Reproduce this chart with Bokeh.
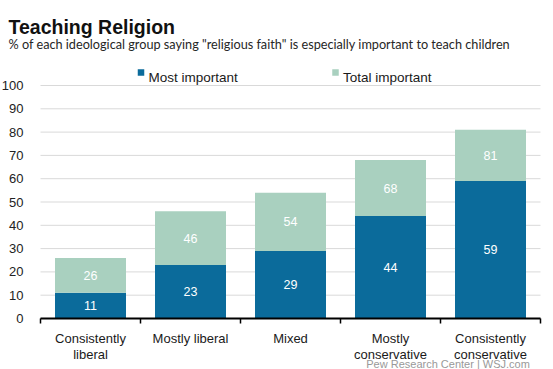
from bokeh.plotting import figure
from bokeh.models import Range1d, FixedTicker, LinearAxis
from bokeh.core.properties import value
from bokeh.embed import file_html
from bokeh.resources import INLINE

# ---- data ----
categories = ["Consistently\nliberal", "Mostly liberal", "Mixed",
              "Mostly\nconservative", "Consistently\nconservative"]
most_important = [11, 23, 29, 44, 59]
total_important = [26, 46, 54, 68, 81]
y_ticks = list(range(0, 101, 10))
series_names = ["Most important", "Total important"]

title_text = "Teaching Religion"
subtitle_text = '% of each ideological group saying "religious faith" is especially important to teach children'
source_text = "Pew Research Center  |  WSJ.com"

BLUE = "#0b6b9b"
GREEN = "#a9d0bf"

# ---- geometry (figure pixels) ----
W, H = 553, 369
FL, FR, FT, FB = 40, 540, 85, 318          # plot area inside the figure
PX_X = (FR - FL) / len(categories)
PX_Y = (FB - FT) / 100.0


def dx(fx):
    return (fx - FL) / PX_X


def dy(fy):
    return (FB - fy) / PX_Y


p = figure(width=W, height=H,
           x_range=Range1d(dx(0), dx(W)), y_range=Range1d(dy(H), dy(0)),
           output_backend="svg", toolbar_location=None,
           x_axis_location=None, y_axis_location=None,
           min_border=0, min_border_left=0, min_border_right=0,
           min_border_top=0, min_border_bottom=0)
p.outline_line_color = None
p.background_fill_color = "white"
p.border_fill_color = "white"
p.grid.visible = False

n = len(categories)
xs = [i + 0.5 for i in range(n)]

# gridlines
p.segment(x0=[0] * len(y_ticks), x1=[n] * len(y_ticks), y0=y_ticks, y1=y_ticks,
          line_color="#d9d9d9", line_width=1)

# bars
p.vbar(x=xs, width=0.71, bottom=0, top=most_important, color=BLUE, line_color=None)
p.vbar(x=xs, width=0.71, bottom=most_important, top=total_important, color=GREEN, line_color=None)

# value labels
label_font = value("Liberation Sans Narrow, Arial Narrow, Liberation Sans, sans-serif")
p.text(x=xs, y=[m / 2 for m in most_important], text=[str(m) for m in most_important],
       text_color="white", text_align="center", text_baseline="middle",
       text_font=label_font, text_font_size="12.5px")
p.text(x=xs, y=[(m + t) / 2 for m, t in zip(most_important, total_important)],
       text=[str(t) for t in total_important],
       text_color="white", text_align="center", text_baseline="middle",
       text_font=label_font, text_font_size="12.5px")

# axes (fixed inside the frame)
yax = LinearAxis(fixed_location=0, bounds=(0, 100), ticker=FixedTicker(ticks=y_ticks))
yax.axis_line_color = None
yax.major_tick_line_color = None
yax.minor_tick_line_color = None
yax.major_label_text_font = "Liberation Sans"
yax.major_label_text_font_size = "13px"
yax.major_label_text_color = "#222222"
yax.major_label_standoff = 11
p.add_layout(yax, "left")

xax = LinearAxis(fixed_location=0, bounds=(0, n), ticker=FixedTicker(ticks=list(range(n + 1))))
xax.major_label_overrides = {i: "" for i in range(n + 1)}
xax.axis_line_color = "black"
xax.axis_line_width = 2
xax.major_tick_line_color = "black"
xax.major_tick_line_width = 1.5
xax.major_tick_in = 0
xax.major_tick_out = 5
xax.minor_tick_line_color = None
p.add_layout(xax, "below")

arial = value("Liberation Sans")

# category labels
cat_x, cat_y, cat_t = [], [], []
for i, cat in enumerate(categories):
    for j, line in enumerate(cat.split("\n")):
        cat_x.append(xs[i])
        cat_y.append(dy(338 + j * 15.5))
        cat_t.append(line)
p.text(x=cat_x, y=cat_y, text=cat_t, text_align="center", text_baseline="alphabetic",
       text_font=arial, text_font_size="13px", text_color="#1a1a1a")

# title / subtitle
p.text(x=[dx(8)], y=[dy(26)], text=[title_text], text_align="left",
       text_baseline="alphabetic", text_font=arial, text_font_style="bold",
       text_font_size="19.5px", text_color="#111111")
p.text(x=[dx(8)], y=[dy(43)], text=[subtitle_text], text_align="left",
       text_baseline="alphabetic", text_font=value("Lato"),
       text_font_size="12.7px", text_color="#262626")

# legend
legend_x = [148, 342.5]
legend_colors = [BLUE, GREEN]
p.scatter(x=[dx(lx - 7.5) for lx in legend_x], y=[dy(72)] * 2, marker="square",
          size=6.5, color=legend_colors, line_color=None)
p.text(x=[dx(lx) for lx in legend_x], y=[dy(77)] * 2, text=series_names,
       text_align="left", text_baseline="alphabetic", text_font=arial,
       text_font_size="13.5px", text_color="#1a1a1a")

# source
p.text(x=[dx(535.5)], y=[dy(363.5)], text=[source_text], text_align="right",
       text_baseline="alphabetic", text_font=arial,
       text_font_size="11px", text_color="#999999")

open("out.html", "w").write(file_html(p, INLINE))
